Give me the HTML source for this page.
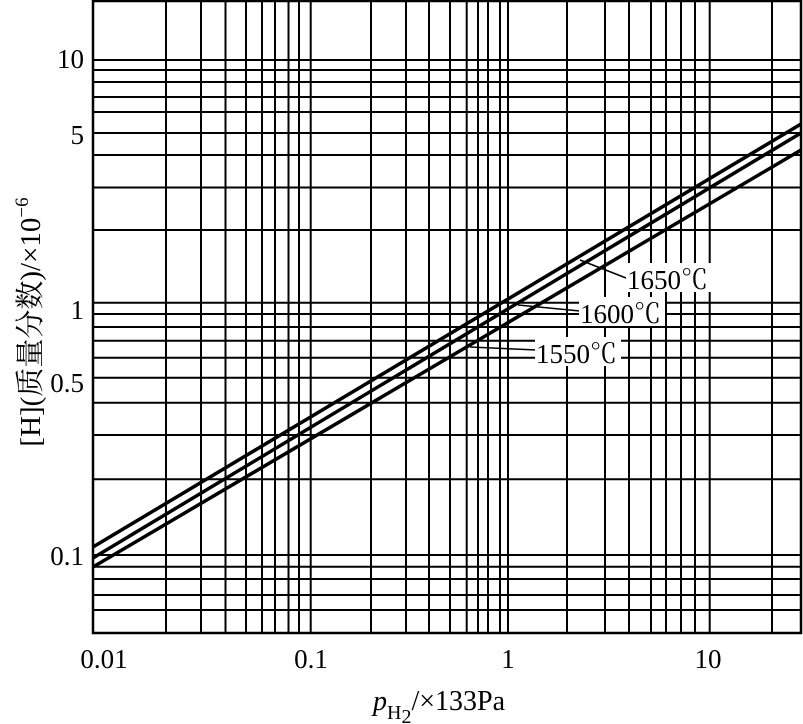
<!DOCTYPE html>
<html><head><meta charset="utf-8"><style>
html,body{margin:0;padding:0;background:#fff;}
svg{display:block;}
text{font-family:"Liberation Serif","Noto Serif CJK SC",serif;fill:#000;}
</style></head><body>
<svg width="803" height="724" viewBox="0 0 803 724" xmlns="http://www.w3.org/2000/svg">
<g stroke="#000" stroke-width="2" fill="none">
<path d="M166 0V633M201 0V633M225.5 0V633M246 0V633M262 0V633M275 0V633M288.5 0V633M299 0V633M310.7 0V633
M371 0V633M406 0V633M429 0V633M450 0V633M466.7 0V633M478 0V633M488 0V633M500 0V633M508 0V633
M567 0V633M605 0V633M629 0V633M651 0V633M666 0V633M681 0V633M695 0V633M709.7 0V633M772 0V633"/>
<path d="M93 60H801M93 70H801M93 82H801M93 97H801M93 112H801M93 133H801M93 155H801M93 187.5H801M93 230H801
M93 302.7H801M93 314H801M93 327H801M93 340.7H801M93 357.7H801M93 377.7H801M93 402.7H801M93 435H801M93 479.3H801
M93 555H801M93 566.7H801M93 579H801M93 595H801M93 610H801"/>
<rect x="93" y="1" width="708" height="632" stroke-width="2.5"/>
</g>
<g stroke="#000" stroke-width="3.5" fill="none">
<line x1="93" y1="547" x2="801" y2="124"/>
<line x1="93" y1="558" x2="801" y2="133"/>
<line x1="93" y1="567" x2="801" y2="150"/>
</g>
<g stroke="#000" stroke-width="1.5">
<line x1="580" y1="260" x2="626" y2="278"/>
<line x1="518" y1="305" x2="580" y2="311"/>
<line x1="470" y1="347" x2="537" y2="350"/>
</g>
<g font-size="27">
<rect x="626" y="263" width="86" height="29" fill="#fff"/>
<text x="627" y="289">1650℃</text>
<rect x="579" y="297" width="86" height="29" fill="#fff"/>
<text x="580" y="323">1600℃</text>
<rect x="535" y="337" width="86" height="29" fill="#fff"/>
<text x="536" y="363">1550℃</text>
</g>
<g font-size="27" text-anchor="end">
<text x="84" y="68">10</text>
<text x="84" y="144">5</text>
<text x="84" y="319">1</text>
<text x="84" y="392">0.5</text>
<text x="84" y="565">0.1</text>
</g>
<g font-size="27" text-anchor="middle">
<text x="104" y="668">0.01</text>
<text x="311" y="668">0.1</text>
<text x="508" y="668">1</text>
<text x="708" y="668">10</text>
</g>
<text x="373" y="710" font-size="28"><tspan font-style="italic">p</tspan><tspan font-size="20" dy="9">H</tspan><tspan font-size="20" dy="4">2</tspan><tspan dy="-13">/×133Pa</tspan></text>
<text transform="translate(40,322) rotate(-90)" font-size="29" text-anchor="middle">[H](质量分数)/×10<tspan font-size="19" dy="-12">−6</tspan></text>
</svg>
</body></html>
